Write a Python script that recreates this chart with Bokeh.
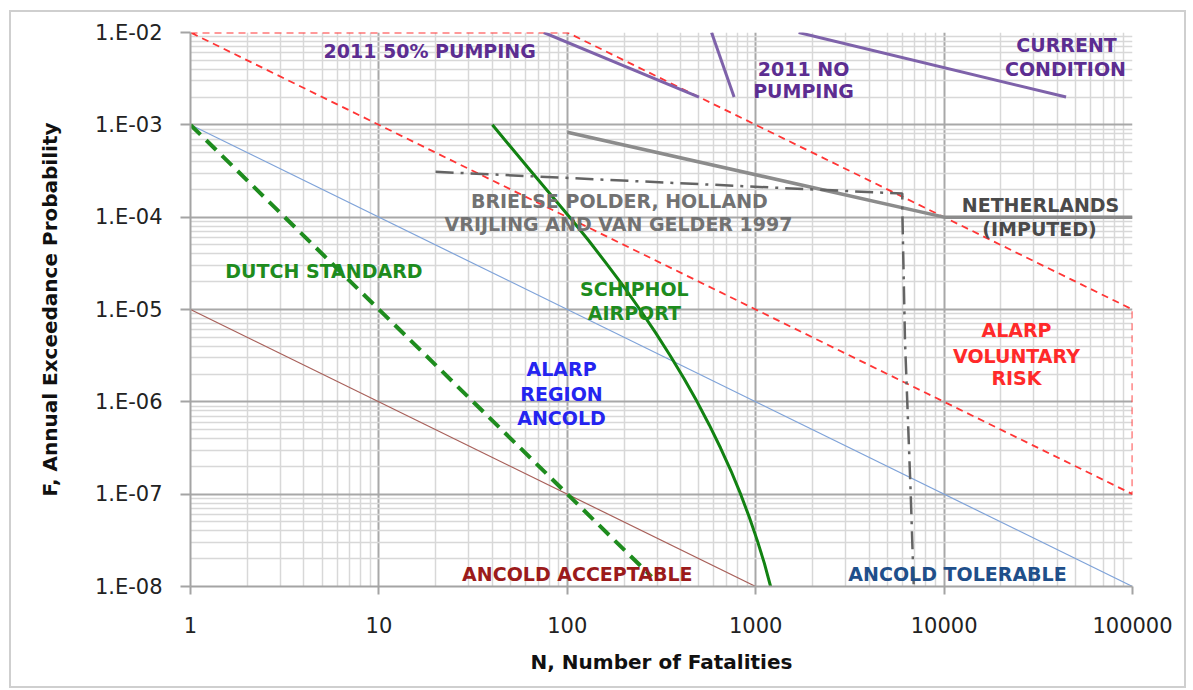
from bokeh.plotting import figure
from bokeh.models import Range1d, FixedTicker, CustomJSTickFormatter, ColumnDataSource
from bokeh.core.properties import value
from bokeh.embed import file_html
from bokeh.resources import INLINE

# ---------------- data ----------------
x_ticks = [1, 10, 100, 1000, 10000, 100000]
x_tick_labels = ["1", "10", "100", "1000", "10000", "100000"]
y_ticks = [1e-8, 1e-7, 1e-6, 1e-5, 1e-4, 1e-3, 1e-2]
y_tick_labels = ["1.E-08", "1.E-07", "1.E-06", "1.E-05", "1.E-04", "1.E-03", "1.E-02"]

# ALARP voluntary risk region (closed dashed outline)
voluntary_n = [1, 100, 100000, 100000, 1]
voluntary_f = [1e-2, 1e-2, 1e-5, 1e-7, 1e-2]

tolerable_n = [1, 100000]
tolerable_f = [1e-3, 1e-8]

acceptable_n = [1, 1000]
acceptable_f = [1e-5, 1e-8]

dutch_n = [1, 280]
dutch_f = [1e-3, 1.28e-8]

schiphol_n = [40, 64, 103, 129.5, 161, 199, 243, 294, 352, 417, 489, 567, 651,
              740, 832, 925, 1019, 1112, 1200]
schiphol_f = [1e-3, 3.16e-4, 1e-4, 5.62e-5, 3.16e-5, 1.78e-5, 1e-5, 5.62e-6, 3.16e-6,
              1.78e-6, 1e-6, 5.62e-7, 3.16e-7, 1.78e-7, 1e-7, 5.62e-8, 3.16e-8, 1.78e-8, 1e-8]

pump50_n = [75, 500]
pump50_f = [1e-2, 2e-3]

nopump_n = [583, 768]
nopump_f = [1e-2, 2e-3]

current_n = [1690, 44400]
current_f = [1e-2, 2e-3]

netherlands_n = [100, 10000, 100000]
netherlands_f = [8.3e-4, 1e-4, 1e-4]

brielse_n = [20, 6000, 6000, 6200, 6650, 6900]
brielse_f = [3.1e-4, 1.8e-4, 1.2e-4, 4.6e-6, 1e-7, 1e-8]

# annotation labels
label_text = ["2011 50% PUMPING", "2011 NO", "PUMPING", "CURRENT", "CONDITION",
              "BRIELSE POLDER, HOLLAND", "VRIJLING AND VAN GELDER 1997",
              "NETHERLANDS", "(IMPUTED)", "DUTCH STANDARD", "SCHIPHOL", "AIRPORT",
              "ALARP", "REGION", "ANCOLD", "ALARP", "VOLUNTARY", "RISK",
              "ANCOLD ACCEPTABLE", "ANCOLD TOLERABLE"]
label_n = [18.6, 1794, 1794, 44640, 44080, 189, 187, 32500, 32100, 5.11, 227, 227,
           93.2, 93.2, 93.2, 24220, 24220, 24220, 113, 11780]
label_f = [6.23e-3, 4.07e-3, 2.30e-3, 7.41e-3, 4.07e-3, 1.48e-4, 8.33e-5,
           1.37e-4, 7.53e-5, 2.64e-5, 1.65e-5, 9.27e-6,
           2.24e-6, 1.23e-6, 6.76e-7, 6.07e-6, 3.17e-6, 1.79e-6, 1.35e-8, 1.35e-8]
label_color = ["#5c2d91"] * 5 + ["#727272"] * 2 + ["#4a4a4a"] * 2 + ["#1e8c1e"] * 3 + \
              ["#2424f0"] * 3 + ["#ff2a2a"] * 3 + ["#9b1b1b", "#1f4f8a"]

# ---------------- figure ----------------
p = figure(width=1177, height=678, x_axis_type="log", y_axis_type="log",
           x_range=Range1d(1, 1e5), y_range=Range1d(1e-8, 1e-2),
           output_backend="svg", toolbar_location=None,
           min_border_left=179, min_border_right=56, min_border_top=20, min_border_bottom=104,
           styles={"border": "2px solid #cfcfcf", "margin-left": "9px", "margin-top": "10px"})
p.outline_line_color = None
p.background_fill_color = "white"

x_minor = [m * 10.0 ** k for k in range(0, 5) for m in range(2, 10)]
y_minor = [m * 10.0 ** k for k in range(-8, -2) for m in range(2, 10)]
xt = FixedTicker(ticks=x_ticks, minor_ticks=x_minor)
yt = FixedTicker(ticks=y_ticks, minor_ticks=y_minor)
p.xaxis.ticker = xt
p.yaxis.ticker = yt
p.xgrid.ticker = xt
p.ygrid.ticker = yt

fmt_code = """
let best = 0, bd = Infinity;
for (let i = 0; i < tvals.length; i++) {
  const d = Math.abs(Math.log10(tick) - Math.log10(tvals[i]));
  if (d < bd) { bd = d; best = i; }
}
return tlabels[best];
"""
p.xaxis.formatter = CustomJSTickFormatter(args=dict(tvals=x_ticks, tlabels=x_tick_labels), code=fmt_code)
p.yaxis.formatter = CustomJSTickFormatter(args=dict(tvals=y_ticks, tlabels=y_tick_labels), code=fmt_code)

for g in (p.xgrid, p.ygrid):
    g.grid_line_color = "#a8a8a8"
    g.grid_line_width = 2
    g.minor_grid_line_color = "#d8d8d8"
    g.minor_grid_line_width = 1.5

for ax in (p.xaxis, p.yaxis):
    ax.axis_line_color = "#a4a4a4"
    ax.axis_line_width = 2
    ax.major_tick_line_color = "#a4a4a4"
    ax.major_tick_line_width = 2
    ax.major_tick_in = 0
    ax.minor_tick_line_color = None
    ax.major_label_text_font = "DejaVu Sans"
    ax.major_label_text_font_size = "21px"
    ax.major_label_text_color = "#222222"
    ax.axis_label_text_font = "DejaVu Sans"
    ax.axis_label_text_font_style = "bold"
    ax.axis_label_text_font_size = "20px"
    ax.axis_label_text_color = "#111111"

p.xaxis.major_tick_out = 8
p.yaxis.major_tick_out = 10
p.xaxis.major_label_standoff = 22
p.yaxis.major_label_standoff = 18
p.xaxis.axis_label = "N, Number of Fatalities"
p.yaxis.axis_label = "F, Annual Exceedance Probability"
p.xaxis.axis_label_standoff = 14
p.yaxis.axis_label_standoff = 30

# ---------------- lines ----------------
p.line(voluntary_n, voluntary_f, line_color="#ff3535", line_width=1.8, line_dash="7 5")
p.line(tolerable_n, tolerable_f, line_color="#7fa3d9", line_width=1.2)
p.line(acceptable_n, acceptable_f, line_color="#a8605a", line_width=1.2)
p.line(dutch_n, dutch_f, line_color="#1e8c1e", line_width=4, line_dash="14 8")
p.line(schiphol_n, schiphol_f, line_color="#128212", line_width=3, line_join="round")
p.line(netherlands_n, netherlands_f, line_color="#8c8c8c", line_width=3.5)
p.line(brielse_n, brielse_f, line_color="#646464", line_width=2.5, line_dash="18 7 3 7")
p.line(pump50_n, pump50_f, line_color="#7e62aa", line_width=3)
p.line(nopump_n, nopump_f, line_color="#7e62aa", line_width=3)
p.line(current_n, current_f, line_color="#7e62aa", line_width=3)

src = ColumnDataSource(dict(x=label_n, y=label_f, text=label_text, color=label_color))
p.text(x="x", y="y", text="text", source=src, text_color="color",
       text_font=value("DejaVu Sans"), text_font_style="bold", text_font_size="19px",
       text_align="center", text_baseline="middle")

open("out.html", "w").write(file_html(p, INLINE))
